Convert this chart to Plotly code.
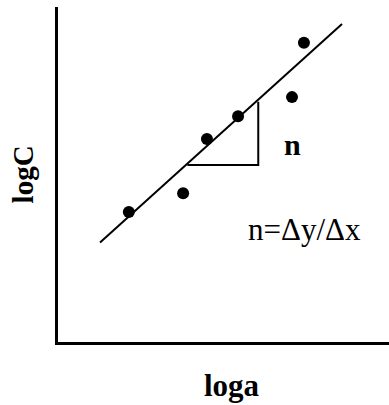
import plotly.graph_objects as go

# Measured data points (arbitrary units, 0-10 on both axes)
loga = [2.14, 3.78, 4.50, 5.44, 7.07, 7.43]
logC = [3.88, 4.44, 6.06, 6.74, 7.31, 8.93]

# Fitted straight line end points
fit_x = [1.27, 8.58]
fit_y = [2.97, 9.49]

# Slope triangle under the line: horizontal leg then vertical leg
tri_x = [3.91, 6.05, 6.05]
tri_y = [5.28, 5.28, 7.17]

FONT = "Liberation Serif, Times New Roman, serif"

fig = go.Figure()
fig.add_trace(go.Scatter(x=fit_x, y=fit_y, mode="lines",
                         line=dict(color="black", width=2), hoverinfo="skip"))
fig.add_trace(go.Scatter(x=tri_x, y=tri_y, mode="lines",
                         line=dict(color="black", width=2), hoverinfo="skip"))
fig.add_trace(go.Scatter(x=loga, y=logC, mode="markers",
                         marker=dict(color="black", size=12)))

fig.add_annotation(x=7.07, y=5.90, text="<b>n</b>", showarrow=False,
                   font=dict(family=FONT, size=30, color="black"))
fig.add_annotation(x=7.45, y=3.35, text="n=Δy/Δx", showarrow=False,
                   font=dict(family=FONT, size=31, color="black"))
fig.add_annotation(xref="paper", yref="paper", x=0.527, y=-0.13,
                   text="<b>loga</b>", showarrow=False, yanchor="middle",
                   font=dict(family=FONT, size=31, color="black"))
fig.add_annotation(xref="paper", yref="paper", x=-0.106, y=0.5,
                   text="<b>logC</b>", showarrow=False, textangle=-90,
                   xanchor="center",
                   font=dict(family=FONT, size=29, color="black"))

fig.update_layout(
    width=389, height=405,
    margin=dict(l=58, r=0, t=7, b=63),
    paper_bgcolor="white", plot_bgcolor="white",
    showlegend=False,
    xaxis=dict(range=[0, 10], showgrid=False, zeroline=False,
               showticklabels=False, ticks="", showline=True,
               linecolor="black", linewidth=2.5),
    yaxis=dict(range=[0, 10], showgrid=False, zeroline=False,
               showticklabels=False, ticks="", showline=True,
               linecolor="black", linewidth=2.5),
)

fig.write_html("out.html")
